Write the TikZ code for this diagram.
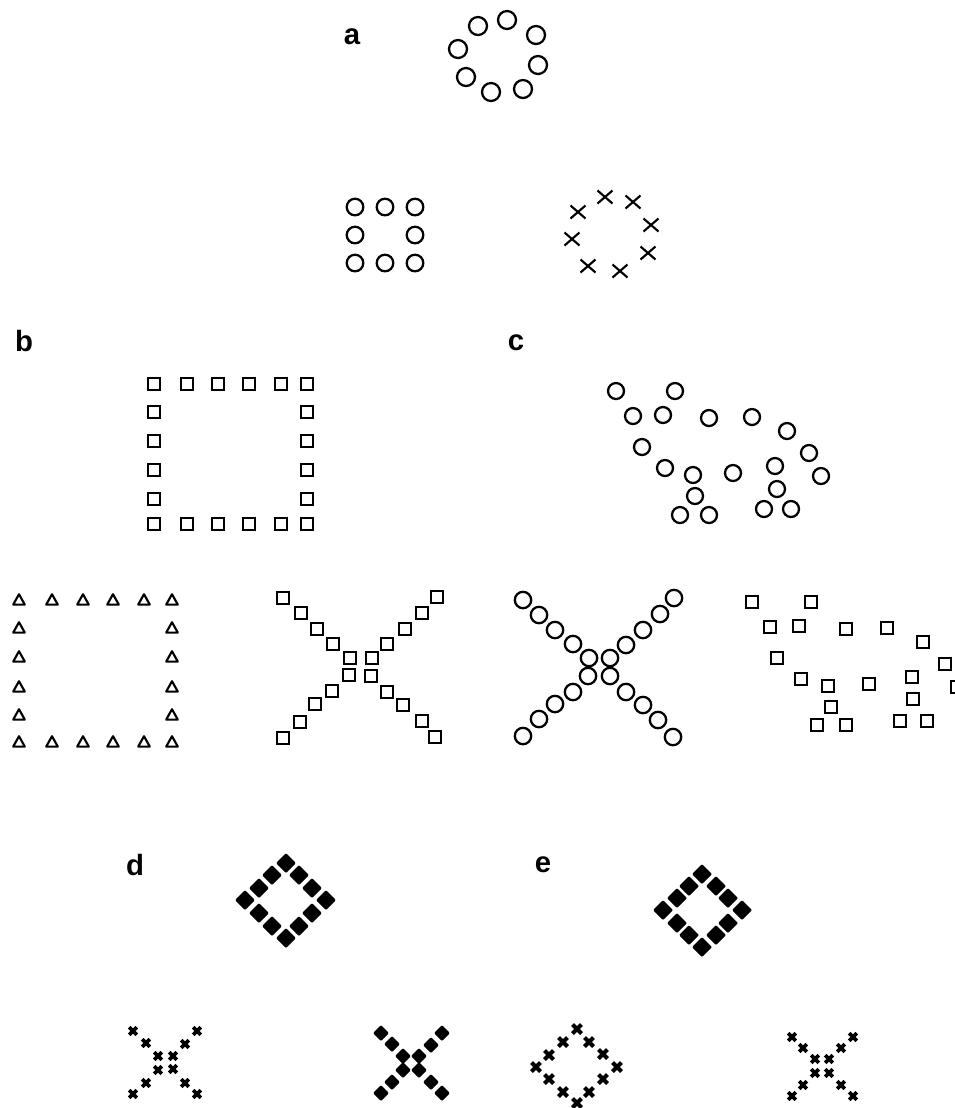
\documentclass[tikz,border=0pt]{standalone}
\usepackage{fontspec}
\setmainfont{Liberation Sans}

\begin{document}
\begin{tikzpicture}[x=.75pt,y=-.75pt,
  lbl/.style={font=\fontsize{22}{26}\selectfont\bfseries,inner sep=0pt},
  ring/.style={draw=black,line width=1.7pt},
  box/.style={draw=black,line width=1.6pt},
  tri/.style={draw=black,line width=1.6pt,line join=round},
  xmark/.style={draw=black,line width=1.6pt},
  bold cross/.style={draw=black,line width=2.8pt},
  gem/.style={fill=black,rounded corners=.8pt}]
\useasboundingbox (0,0) rectangle (955,1108);
% panel labels
\node[lbl] (la) at (352,37) {a};
\node[lbl] (lb) at (24,341) {b};
\node[lbl] (lc) at (516,343) {c};
\node[lbl] (ld) at (135,865) {d};
\node[lbl] (le) at (543,865) {e};
% a: ring of circles
\draw[ring] (478,26) circle[radius=9];
\draw[ring] (507,20) circle[radius=9];
\draw[ring] (536,35) circle[radius=9];
\draw[ring] (458,49) circle[radius=9];
\draw[ring] (538,65) circle[radius=9];
\draw[ring] (466,77) circle[radius=9];
\draw[ring] (491,92) circle[radius=9];
\draw[ring] (523,89) circle[radius=9];
% a: square of circles
\draw[ring] (355,207) circle[radius=8.3];
\draw[ring] (385,207) circle[radius=8.3];
\draw[ring] (415,207) circle[radius=8.3];
\draw[ring] (355,235) circle[radius=8.3];
\draw[ring] (415,235) circle[radius=8.3];
\draw[ring] (355,263) circle[radius=8.3];
\draw[ring] (385,263) circle[radius=8.3];
\draw[ring] (415,263) circle[radius=8.3];
% a: ring of crosses
\draw[xmark] (578,212) +(-7.5,-6.5) -- +(7.5,6.5) +(-7.5,6.5) -- +(7.5,-6.5);
\draw[xmark] (605,197) +(-7.5,-6.5) -- +(7.5,6.5) +(-7.5,6.5) -- +(7.5,-6.5);
\draw[xmark] (633,202) +(-7.5,-6.5) -- +(7.5,6.5) +(-7.5,6.5) -- +(7.5,-6.5);
\draw[xmark] (651,225) +(-7.5,-6.5) -- +(7.5,6.5) +(-7.5,6.5) -- +(7.5,-6.5);
\draw[xmark] (572,239) +(-7.5,-6.5) -- +(7.5,6.5) +(-7.5,6.5) -- +(7.5,-6.5);
\draw[xmark] (648,253) +(-7.5,-6.5) -- +(7.5,6.5) +(-7.5,6.5) -- +(7.5,-6.5);
\draw[xmark] (588,266) +(-7.5,-6.5) -- +(7.5,6.5) +(-7.5,6.5) -- +(7.5,-6.5);
\draw[xmark] (620,271) +(-7.5,-6.5) -- +(7.5,6.5) +(-7.5,6.5) -- +(7.5,-6.5);
% b: square frame of squares
\draw[box] (154,384) +(-5.8,-5.8) rectangle +(5.8,5.8);
\draw[box] (187,384) +(-5.8,-5.8) rectangle +(5.8,5.8);
\draw[box] (218,384) +(-5.8,-5.8) rectangle +(5.8,5.8);
\draw[box] (249,384) +(-5.8,-5.8) rectangle +(5.8,5.8);
\draw[box] (281,384) +(-5.8,-5.8) rectangle +(5.8,5.8);
\draw[box] (307,384) +(-5.8,-5.8) rectangle +(5.8,5.8);
\draw[box] (154,412) +(-5.8,-5.8) rectangle +(5.8,5.8);
\draw[box] (307,412) +(-5.8,-5.8) rectangle +(5.8,5.8);
\draw[box] (154,441) +(-5.8,-5.8) rectangle +(5.8,5.8);
\draw[box] (307,441) +(-5.8,-5.8) rectangle +(5.8,5.8);
\draw[box] (154,470) +(-5.8,-5.8) rectangle +(5.8,5.8);
\draw[box] (307,470) +(-5.8,-5.8) rectangle +(5.8,5.8);
\draw[box] (154,499) +(-5.8,-5.8) rectangle +(5.8,5.8);
\draw[box] (307,499) +(-5.8,-5.8) rectangle +(5.8,5.8);
\draw[box] (154,524) +(-5.8,-5.8) rectangle +(5.8,5.8);
\draw[box] (187,524) +(-5.8,-5.8) rectangle +(5.8,5.8);
\draw[box] (218,524) +(-5.8,-5.8) rectangle +(5.8,5.8);
\draw[box] (249,524) +(-5.8,-5.8) rectangle +(5.8,5.8);
\draw[box] (281,524) +(-5.8,-5.8) rectangle +(5.8,5.8);
\draw[box] (307,524) +(-5.8,-5.8) rectangle +(5.8,5.8);
% b: square frame of triangles
\draw[tri] (19,600) +(-5.8,4.6) -- +(5.8,4.6) -- +(0,-5.8) -- cycle;
\draw[tri] (52,600) +(-5.8,4.6) -- +(5.8,4.6) -- +(0,-5.8) -- cycle;
\draw[tri] (83,600) +(-5.8,4.6) -- +(5.8,4.6) -- +(0,-5.8) -- cycle;
\draw[tri] (113,600) +(-5.8,4.6) -- +(5.8,4.6) -- +(0,-5.8) -- cycle;
\draw[tri] (144,600) +(-5.8,4.6) -- +(5.8,4.6) -- +(0,-5.8) -- cycle;
\draw[tri] (172,600) +(-5.8,4.6) -- +(5.8,4.6) -- +(0,-5.8) -- cycle;
\draw[tri] (19,628) +(-5.8,4.6) -- +(5.8,4.6) -- +(0,-5.8) -- cycle;
\draw[tri] (172,628) +(-5.8,4.6) -- +(5.8,4.6) -- +(0,-5.8) -- cycle;
\draw[tri] (19,657) +(-5.8,4.6) -- +(5.8,4.6) -- +(0,-5.8) -- cycle;
\draw[tri] (172,657) +(-5.8,4.6) -- +(5.8,4.6) -- +(0,-5.8) -- cycle;
\draw[tri] (19,687) +(-5.8,4.6) -- +(5.8,4.6) -- +(0,-5.8) -- cycle;
\draw[tri] (172,687) +(-5.8,4.6) -- +(5.8,4.6) -- +(0,-5.8) -- cycle;
\draw[tri] (19,715) +(-5.8,4.6) -- +(5.8,4.6) -- +(0,-5.8) -- cycle;
\draw[tri] (172,715) +(-5.8,4.6) -- +(5.8,4.6) -- +(0,-5.8) -- cycle;
\draw[tri] (19,742) +(-5.8,4.6) -- +(5.8,4.6) -- +(0,-5.8) -- cycle;
\draw[tri] (52,742) +(-5.8,4.6) -- +(5.8,4.6) -- +(0,-5.8) -- cycle;
\draw[tri] (83,742) +(-5.8,4.6) -- +(5.8,4.6) -- +(0,-5.8) -- cycle;
\draw[tri] (113,742) +(-5.8,4.6) -- +(5.8,4.6) -- +(0,-5.8) -- cycle;
\draw[tri] (144,742) +(-5.8,4.6) -- +(5.8,4.6) -- +(0,-5.8) -- cycle;
\draw[tri] (172,742) +(-5.8,4.6) -- +(5.8,4.6) -- +(0,-5.8) -- cycle;
% b: cross of squares
\draw[box] (283,598) +(-5.8,-5.8) rectangle +(5.8,5.8);
\draw[box] (301,613) +(-5.8,-5.8) rectangle +(5.8,5.8);
\draw[box] (317,629) +(-5.8,-5.8) rectangle +(5.8,5.8);
\draw[box] (333,644) +(-5.8,-5.8) rectangle +(5.8,5.8);
\draw[box] (350,658) +(-5.8,-5.8) rectangle +(5.8,5.8);
\draw[box] (372,658) +(-5.8,-5.8) rectangle +(5.8,5.8);
\draw[box] (387,644) +(-5.8,-5.8) rectangle +(5.8,5.8);
\draw[box] (405,629) +(-5.8,-5.8) rectangle +(5.8,5.8);
\draw[box] (422,613) +(-5.8,-5.8) rectangle +(5.8,5.8);
\draw[box] (437,597) +(-5.8,-5.8) rectangle +(5.8,5.8);
\draw[box] (349,675) +(-5.8,-5.8) rectangle +(5.8,5.8);
\draw[box] (371,676) +(-5.8,-5.8) rectangle +(5.8,5.8);
\draw[box] (332,691) +(-5.8,-5.8) rectangle +(5.8,5.8);
\draw[box] (315,704) +(-5.8,-5.8) rectangle +(5.8,5.8);
\draw[box] (300,722) +(-5.8,-5.8) rectangle +(5.8,5.8);
\draw[box] (283,738) +(-5.8,-5.8) rectangle +(5.8,5.8);
\draw[box] (387,692) +(-5.8,-5.8) rectangle +(5.8,5.8);
\draw[box] (403,705) +(-5.8,-5.8) rectangle +(5.8,5.8);
\draw[box] (422,721) +(-5.8,-5.8) rectangle +(5.8,5.8);
\draw[box] (435,737) +(-5.8,-5.8) rectangle +(5.8,5.8);
% c: scattered circles
\draw[ring] (616,391) circle[radius=8];
\draw[ring] (675,391) circle[radius=8];
\draw[ring] (633,416) circle[radius=8];
\draw[ring] (663,415) circle[radius=8];
\draw[ring] (709,418) circle[radius=8];
\draw[ring] (752,417) circle[radius=8];
\draw[ring] (787,431) circle[radius=8];
\draw[ring] (642,447) circle[radius=8];
\draw[ring] (809,453) circle[radius=8];
\draw[ring] (665,468) circle[radius=8];
\draw[ring] (693,475) circle[radius=8];
\draw[ring] (733,473) circle[radius=8];
\draw[ring] (775,466) circle[radius=8];
\draw[ring] (821,476) circle[radius=8];
\draw[ring] (695,496) circle[radius=8];
\draw[ring] (777,489) circle[radius=8];
\draw[ring] (680,515) circle[radius=8];
\draw[ring] (709,515) circle[radius=8];
\draw[ring] (764,509) circle[radius=8];
\draw[ring] (791,509) circle[radius=8];
% c: cross of circles
\draw[ring] (523,600) circle[radius=8.2];
\draw[ring] (539,615) circle[radius=8.2];
\draw[ring] (555,630) circle[radius=8.2];
\draw[ring] (573,644) circle[radius=8.2];
\draw[ring] (589,658) circle[radius=8.2];
\draw[ring] (610,658) circle[radius=8.2];
\draw[ring] (626,645) circle[radius=8.2];
\draw[ring] (643,630) circle[radius=8.2];
\draw[ring] (660,614) circle[radius=8.2];
\draw[ring] (674,598) circle[radius=8.2];
\draw[ring] (588,676) circle[radius=8.2];
\draw[ring] (610,676) circle[radius=8.2];
\draw[ring] (573,692) circle[radius=8.2];
\draw[ring] (555,704) circle[radius=8.2];
\draw[ring] (539,719) circle[radius=8.2];
\draw[ring] (523,736) circle[radius=8.2];
\draw[ring] (626,692) circle[radius=8.2];
\draw[ring] (643,705) circle[radius=8.2];
\draw[ring] (658,720) circle[radius=8.2];
\draw[ring] (673,737) circle[radius=8.2];
% c: scattered squares
\draw[box] (752,602) +(-5.8,-5.8) rectangle +(5.8,5.8);
\draw[box] (811,602) +(-5.8,-5.8) rectangle +(5.8,5.8);
\draw[box] (770,627) +(-5.8,-5.8) rectangle +(5.8,5.8);
\draw[box] (799,626) +(-5.8,-5.8) rectangle +(5.8,5.8);
\draw[box] (846,629) +(-5.8,-5.8) rectangle +(5.8,5.8);
\draw[box] (887,628) +(-5.8,-5.8) rectangle +(5.8,5.8);
\draw[box] (923,642) +(-5.8,-5.8) rectangle +(5.8,5.8);
\draw[box] (777,658) +(-5.8,-5.8) rectangle +(5.8,5.8);
\draw[box] (945,664) +(-5.8,-5.8) rectangle +(5.8,5.8);
\draw[box] (801,679) +(-5.8,-5.8) rectangle +(5.8,5.8);
\draw[box] (828,686) +(-5.8,-5.8) rectangle +(5.8,5.8);
\draw[box] (869,684) +(-5.8,-5.8) rectangle +(5.8,5.8);
\draw[box] (912,677) +(-5.8,-5.8) rectangle +(5.8,5.8);
\draw[box] (957,687) +(-5.8,-5.8) rectangle +(5.8,5.8);
\draw[box] (831,707) +(-5.8,-5.8) rectangle +(5.8,5.8);
\draw[box] (913,699) +(-5.8,-5.8) rectangle +(5.8,5.8);
\draw[box] (817,725) +(-5.8,-5.8) rectangle +(5.8,5.8);
\draw[box] (846,725) +(-5.8,-5.8) rectangle +(5.8,5.8);
\draw[box] (900,721) +(-5.8,-5.8) rectangle +(5.8,5.8);
\draw[box] (927,721) +(-5.8,-5.8) rectangle +(5.8,5.8);
% d: diamond of filled diamonds
\fill[gem] (286,863) +(0,-10) -- +(10,0) -- +(0,10) -- +(-10,0) -- cycle;
\fill[gem] (272,875) +(0,-10) -- +(10,0) -- +(0,10) -- +(-10,0) -- cycle;
\fill[gem] (299,875) +(0,-10) -- +(10,0) -- +(0,10) -- +(-10,0) -- cycle;
\fill[gem] (259,888) +(0,-10) -- +(10,0) -- +(0,10) -- +(-10,0) -- cycle;
\fill[gem] (312,888) +(0,-10) -- +(10,0) -- +(0,10) -- +(-10,0) -- cycle;
\fill[gem] (245,900) +(0,-10) -- +(10,0) -- +(0,10) -- +(-10,0) -- cycle;
\fill[gem] (326,900) +(0,-10) -- +(10,0) -- +(0,10) -- +(-10,0) -- cycle;
\fill[gem] (259,913) +(0,-10) -- +(10,0) -- +(0,10) -- +(-10,0) -- cycle;
\fill[gem] (312,913) +(0,-10) -- +(10,0) -- +(0,10) -- +(-10,0) -- cycle;
\fill[gem] (272,926) +(0,-10) -- +(10,0) -- +(0,10) -- +(-10,0) -- cycle;
\fill[gem] (299,926) +(0,-10) -- +(10,0) -- +(0,10) -- +(-10,0) -- cycle;
\fill[gem] (286,938) +(0,-10) -- +(10,0) -- +(0,10) -- +(-10,0) -- cycle;
% d: cross of small crosses
\draw[bold cross] (133,1031) +(-3.8,-3.8) -- +(3.8,3.8) +(-3.8,3.8) -- +(3.8,-3.8);
\draw[bold cross] (146,1043) +(-3.8,-3.8) -- +(3.8,3.8) +(-3.8,3.8) -- +(3.8,-3.8);
\draw[bold cross] (158,1056) +(-3.8,-3.8) -- +(3.8,3.8) +(-3.8,3.8) -- +(3.8,-3.8);
\draw[bold cross] (173,1056) +(-3.8,-3.8) -- +(3.8,3.8) +(-3.8,3.8) -- +(3.8,-3.8);
\draw[bold cross] (185,1044) +(-3.8,-3.8) -- +(3.8,3.8) +(-3.8,3.8) -- +(3.8,-3.8);
\draw[bold cross] (197,1031) +(-3.8,-3.8) -- +(3.8,3.8) +(-3.8,3.8) -- +(3.8,-3.8);
\draw[bold cross] (158,1070) +(-3.8,-3.8) -- +(3.8,3.8) +(-3.8,3.8) -- +(3.8,-3.8);
\draw[bold cross] (173,1069) +(-3.8,-3.8) -- +(3.8,3.8) +(-3.8,3.8) -- +(3.8,-3.8);
\draw[bold cross] (146,1083) +(-3.8,-3.8) -- +(3.8,3.8) +(-3.8,3.8) -- +(3.8,-3.8);
\draw[bold cross] (133,1094) +(-3.8,-3.8) -- +(3.8,3.8) +(-3.8,3.8) -- +(3.8,-3.8);
\draw[bold cross] (185,1083) +(-3.8,-3.8) -- +(3.8,3.8) +(-3.8,3.8) -- +(3.8,-3.8);
\draw[bold cross] (197,1094) +(-3.8,-3.8) -- +(3.8,3.8) +(-3.8,3.8) -- +(3.8,-3.8);
% d: cross of filled diamonds
\fill[gem] (381,1033) +(0,-8) -- +(8,0) -- +(0,8) -- +(-8,0) -- cycle;
\fill[gem] (392,1044) +(0,-8) -- +(8,0) -- +(0,8) -- +(-8,0) -- cycle;
\fill[gem] (403,1056) +(0,-8) -- +(8,0) -- +(0,8) -- +(-8,0) -- cycle;
\fill[gem] (419,1056) +(0,-8) -- +(8,0) -- +(0,8) -- +(-8,0) -- cycle;
\fill[gem] (431,1045) +(0,-8) -- +(8,0) -- +(0,8) -- +(-8,0) -- cycle;
\fill[gem] (442,1033) +(0,-8) -- +(8,0) -- +(0,8) -- +(-8,0) -- cycle;
\fill[gem] (403,1070) +(0,-8) -- +(8,0) -- +(0,8) -- +(-8,0) -- cycle;
\fill[gem] (419,1070) +(0,-8) -- +(8,0) -- +(0,8) -- +(-8,0) -- cycle;
\fill[gem] (392,1082) +(0,-8) -- +(8,0) -- +(0,8) -- +(-8,0) -- cycle;
\fill[gem] (381,1093) +(0,-8) -- +(8,0) -- +(0,8) -- +(-8,0) -- cycle;
\fill[gem] (431,1082) +(0,-8) -- +(8,0) -- +(0,8) -- +(-8,0) -- cycle;
\fill[gem] (442,1093) +(0,-8) -- +(8,0) -- +(0,8) -- +(-8,0) -- cycle;
% e: diamond of filled diamonds
\fill[gem] (702,874) +(0,-10) -- +(10,0) -- +(0,10) -- +(-10,0) -- cycle;
\fill[gem] (689,886) +(0,-10) -- +(10,0) -- +(0,10) -- +(-10,0) -- cycle;
\fill[gem] (716,886) +(0,-10) -- +(10,0) -- +(0,10) -- +(-10,0) -- cycle;
\fill[gem] (677,898) +(0,-10) -- +(10,0) -- +(0,10) -- +(-10,0) -- cycle;
\fill[gem] (728,898) +(0,-10) -- +(10,0) -- +(0,10) -- +(-10,0) -- cycle;
\fill[gem] (663,910) +(0,-10) -- +(10,0) -- +(0,10) -- +(-10,0) -- cycle;
\fill[gem] (742,910) +(0,-10) -- +(10,0) -- +(0,10) -- +(-10,0) -- cycle;
\fill[gem] (677,923) +(0,-10) -- +(10,0) -- +(0,10) -- +(-10,0) -- cycle;
\fill[gem] (728,923) +(0,-10) -- +(10,0) -- +(0,10) -- +(-10,0) -- cycle;
\fill[gem] (689,935) +(0,-10) -- +(10,0) -- +(0,10) -- +(-10,0) -- cycle;
\fill[gem] (716,935) +(0,-10) -- +(10,0) -- +(0,10) -- +(-10,0) -- cycle;
\fill[gem] (702,947) +(0,-10) -- +(10,0) -- +(0,10) -- +(-10,0) -- cycle;
% e: diamond of crosses
\draw[bold cross,line width=3pt] (577,1029) +(-4.5,-4.5) -- +(4.5,4.5) +(-4.5,4.5) -- +(4.5,-4.5);
\draw[bold cross,line width=3pt] (563,1042) +(-4.5,-4.5) -- +(4.5,4.5) +(-4.5,4.5) -- +(4.5,-4.5);
\draw[bold cross,line width=3pt] (589,1042) +(-4.5,-4.5) -- +(4.5,4.5) +(-4.5,4.5) -- +(4.5,-4.5);
\draw[bold cross,line width=3pt] (549,1055) +(-4.5,-4.5) -- +(4.5,4.5) +(-4.5,4.5) -- +(4.5,-4.5);
\draw[bold cross,line width=3pt] (603,1054) +(-4.5,-4.5) -- +(4.5,4.5) +(-4.5,4.5) -- +(4.5,-4.5);
\draw[bold cross,line width=3pt] (536,1067) +(-4.5,-4.5) -- +(4.5,4.5) +(-4.5,4.5) -- +(4.5,-4.5);
\draw[bold cross,line width=3pt] (617,1067) +(-4.5,-4.5) -- +(4.5,4.5) +(-4.5,4.5) -- +(4.5,-4.5);
\draw[bold cross,line width=3pt] (549,1079) +(-4.5,-4.5) -- +(4.5,4.5) +(-4.5,4.5) -- +(4.5,-4.5);
\draw[bold cross,line width=3pt] (603,1079) +(-4.5,-4.5) -- +(4.5,4.5) +(-4.5,4.5) -- +(4.5,-4.5);
\draw[bold cross,line width=3pt] (563,1092) +(-4.5,-4.5) -- +(4.5,4.5) +(-4.5,4.5) -- +(4.5,-4.5);
\draw[bold cross,line width=3pt] (589,1092) +(-4.5,-4.5) -- +(4.5,4.5) +(-4.5,4.5) -- +(4.5,-4.5);
\draw[bold cross,line width=3pt] (577,1103) +(-4.5,-4.5) -- +(4.5,4.5) +(-4.5,4.5) -- +(4.5,-4.5);
% e: cross of small crosses
\draw[bold cross] (792,1037) +(-3.8,-3.8) -- +(3.8,3.8) +(-3.8,3.8) -- +(3.8,-3.8);
\draw[bold cross] (803,1048) +(-3.8,-3.8) -- +(3.8,3.8) +(-3.8,3.8) -- +(3.8,-3.8);
\draw[bold cross] (815,1059) +(-3.8,-3.8) -- +(3.8,3.8) +(-3.8,3.8) -- +(3.8,-3.8);
\draw[bold cross] (829,1059) +(-3.8,-3.8) -- +(3.8,3.8) +(-3.8,3.8) -- +(3.8,-3.8);
\draw[bold cross] (841,1048) +(-3.8,-3.8) -- +(3.8,3.8) +(-3.8,3.8) -- +(3.8,-3.8);
\draw[bold cross] (853,1037) +(-3.8,-3.8) -- +(3.8,3.8) +(-3.8,3.8) -- +(3.8,-3.8);
\draw[bold cross] (815,1073) +(-3.8,-3.8) -- +(3.8,3.8) +(-3.8,3.8) -- +(3.8,-3.8);
\draw[bold cross] (829,1073) +(-3.8,-3.8) -- +(3.8,3.8) +(-3.8,3.8) -- +(3.8,-3.8);
\draw[bold cross] (803,1085) +(-3.8,-3.8) -- +(3.8,3.8) +(-3.8,3.8) -- +(3.8,-3.8);
\draw[bold cross] (792,1096) +(-3.8,-3.8) -- +(3.8,3.8) +(-3.8,3.8) -- +(3.8,-3.8);
\draw[bold cross] (841,1085) +(-3.8,-3.8) -- +(3.8,3.8) +(-3.8,3.8) -- +(3.8,-3.8);
\draw[bold cross] (853,1096) +(-3.8,-3.8) -- +(3.8,3.8) +(-3.8,3.8) -- +(3.8,-3.8);
\end{tikzpicture}
\end{document}
